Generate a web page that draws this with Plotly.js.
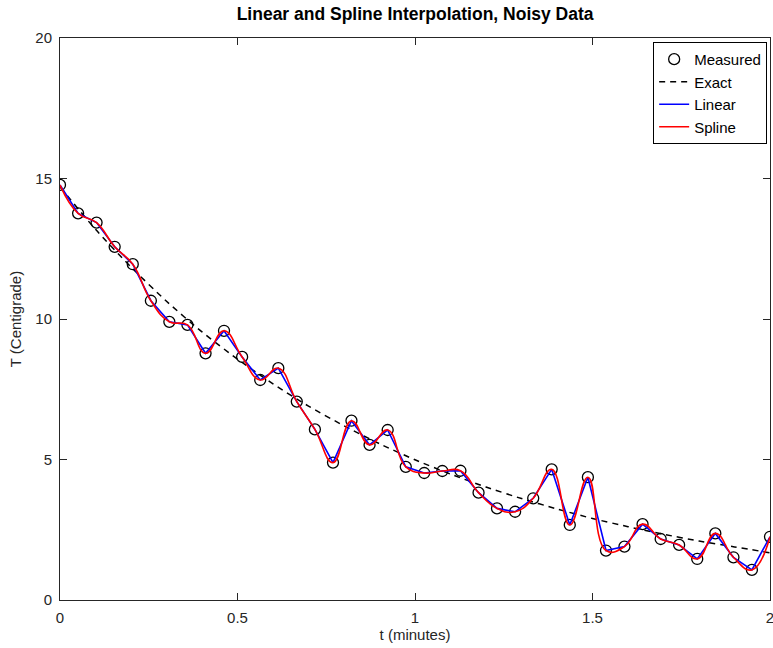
<!DOCTYPE html>
<html>
<head>
<meta charset="utf-8">
<script src="https://cdn.plot.ly/plotly-3.0.1.min.js"></script>
<style>html,body{margin:0;padding:0;background:#fff;}#chart{width:773px;height:648px;}</style>
</head>
<body>
<div id="chart"></div>
<script>
// Measured sample times (40 evenly spaced samples from 0 to 2 minutes)
const tMeasured = [0.000,0.051,0.103,0.154,0.205,0.256,0.308,0.359,0.410,0.462,
                   0.513,0.564,0.615,0.667,0.718,0.769,0.821,0.872,0.923,0.974,
                   1.026,1.077,1.128,1.179,1.231,1.282,1.333,1.385,1.436,1.487,
                   1.538,1.590,1.641,1.692,1.744,1.795,1.846,1.897,1.949,2.000];
// Measured (noisy) temperatures
const tempMeasured = [14.77,13.76,13.43,12.57,11.95,10.65,9.90,9.79,8.78,9.58,
                      8.65,7.83,8.25,7.06,6.07,4.89,6.38,5.52,6.05,4.74,
                      4.52,4.59,4.60,3.82,3.26,3.14,3.62,4.65,2.67,4.37,
                      1.76,1.90,2.70,2.17,1.96,1.46,2.37,1.52,1.07,2.25];
// Exact curve
const tExact = [0,0.1,0.2,0.3,0.4,0.5,0.6,0.7,0.8,0.9,1.0,1.1,1.2,1.3,1.4,1.5,1.6,1.7,1.8,1.9,2.0];
const tempExact = [14.70,13.19,11.85,10.63,9.54,8.57,7.69,6.90,6.20,5.56,4.99,4.48,4.02,3.61,3.24,2.90,2.61,2.34,2.10,1.89,1.68];

const xTicks = [0,0.5,1,1.5,2];
const xTickText = ['0','0.5','1','1.5','2'];
const yTicks = [0,5,10,15,20];
const yTickText = ['0','5','10','15','20'];

const FONT = 'Liberation Sans, Arial, Helvetica, sans-serif';
const AX = '#262626';

const traces = [
  {x: tMeasured, y: tempMeasured, mode: 'markers', name: 'Measured', type: 'scatter',
   marker: {symbol: 'circle-open', size: 11, color: '#000', line: {width: 1.3, color: '#000'}}},
  {x: tExact, y: tempExact, mode: 'lines', name: 'Exact', type: 'scatter',
   line: {color: '#000', width: 1.5, dash: '6px,5px', shape: 'spline', smoothing: 0.6}},
  {x: tMeasured, y: tempMeasured, mode: 'lines', name: 'Linear', type: 'scatter',
   line: {color: '#0000ff', width: 1.6}},
  {x: tMeasured, y: tempMeasured, mode: 'lines', name: 'Spline', type: 'scatter',
   line: {color: '#ff0000', width: 1.6, shape: 'spline', smoothing: 1.3}}
];

const axisCommon = {
  showgrid: false, zeroline: false, showline: true, linecolor: AX, linewidth: 1,
  mirror: 'ticks', ticks: 'inside', ticklen: 7, tickcolor: AX, tickwidth: 1,
  tickfont: {family: FONT, size: 15, color: AX}, ticklabeloverflow: 'allow'
};

const layout = {
  width: 773, height: 648,
  margin: {l: 60, r: 3, t: 38, b: 48},
  paper_bgcolor: '#fff', plot_bgcolor: '#fff',
  font: {family: FONT, color: AX},
  title: {text: '<b>Linear and Spline Interpolation, Noisy Data</b>',
          font: {family: FONT, size: 17.5, color: '#000'},
          x: 0.537, xanchor: 'center', y: 0.978, yanchor: 'middle'},
  xaxis: Object.assign({}, axisCommon, {
    range: [0, 2], tickvals: xTicks, ticktext: xTickText, ticklabelstandoff: 4,
    title: {text: 't (minutes)', font: {family: FONT, size: 15, color: AX}, standoff: 2}
  }),
  yaxis: Object.assign({}, axisCommon, {
    range: [0, 20], tickvals: yTicks, ticktext: yTickText, ticklabelstandoff: 4,
    title: {text: 'T (Centigrade)', font: {family: FONT, size: 15, color: AX}, standoff: 10}
  }),
  showlegend: true,
  legend: {x: 0.996, xanchor: 'right', y: 0.993, yanchor: 'top',
           bgcolor: '#fff', bordercolor: '#000', borderwidth: 1,
           font: {family: FONT, size: 15, color: '#000'},
           tracegroupgap: 0, itemwidth: 30}
};

Plotly.newPlot('chart', traces, layout, {displayModeBar: false, staticPlot: true});
</script>
</body>
</html>
